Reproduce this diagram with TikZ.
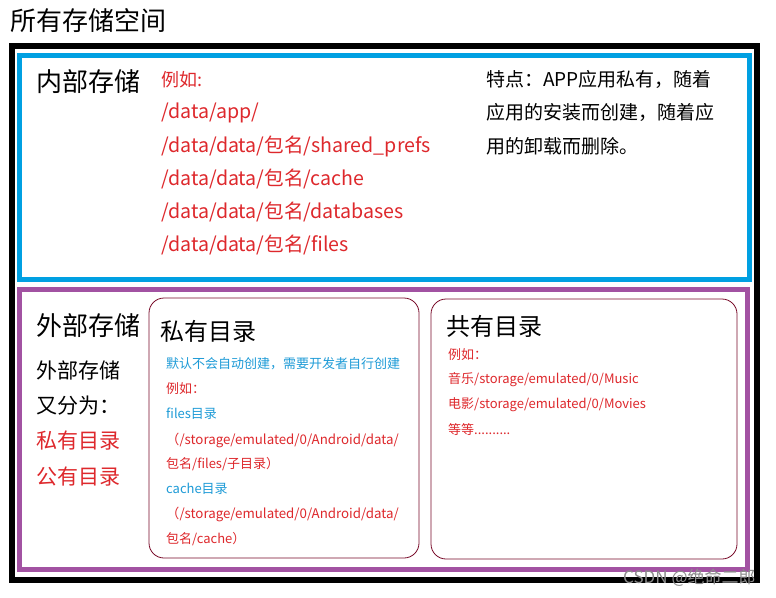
\documentclass[tikz,border=0pt]{standalone}
\usepackage{fontspec}
\setmainfont{Noto Sans CJK SC}
\definecolor{myred}{RGB}{222,40,44}
\definecolor{myblue}{RGB}{0,160,226}
\definecolor{mytblue}{RGB}{30,155,215}
\definecolor{mypurple}{RGB}{162,82,162}
\definecolor{mybrd}{RGB}{120,10,40}
\tikzset{
  txt/.style={anchor=west, inner sep=0pt, font=#1},
  redtxt/.style={txt=#1, text=myred},
  bluetxt/.style={txt=#1, text=mytblue},
  subbox/.style={draw=mybrd, line width=0.8pt, rounded corners=15pt},
}
\begin{document}
\begin{tikzpicture}[x=1pt,y=-1pt]
\useasboundingbox[fill=white] (0,0) rectangle (776,597);
% frames
\draw[line width=6pt] (12,45.5) rectangle (757,580);
\draw[myblue, line width=5pt] (19.5,55.5) rectangle (749.5,279);
\draw[mypurple, line width=5pt] (19.5,289.5) rectangle (747.5,569.5);
\draw[subbox] (149,298) rectangle (419,558);
\draw[subbox] (431,299) rectangle (737,559);
% title
\node[txt=\fontsize{26}{30}\selectfont] (title) at (10,21) {所有存储空间};
% internal
\node[txt=\fontsize{26}{30}\selectfont] (inner) at (36,82) {内部存储};
\node[redtxt=\fontsize{18}{22}\selectfont] (i0) at (161,80) {例如:};
\node[redtxt=\fontsize{19.6}{24}\selectfont] (i1) at (161,113) {/data/app/};
\node[redtxt=\fontsize{19.6}{24}\selectfont] (i2) at (161,146) {/data/data/包名/shared\_prefs};
\node[redtxt=\fontsize{19.6}{24}\selectfont] (i3) at (161,179) {/data/data/包名/cache};
\node[redtxt=\fontsize{19.6}{24}\selectfont] (i4) at (161,212) {/data/data/包名/databases};
\node[redtxt=\fontsize{19.6}{24}\selectfont] (i5) at (161,245) {/data/data/包名/files};
\node[txt=\fontsize{19}{23}\selectfont] (f1) at (486,79) {特点：APP应用私有，随着};
\node[txt=\fontsize{19}{23}\selectfont] (f2) at (486,112) {应用的安装而创建，随着应};
\node[txt=\fontsize{19}{23}\selectfont] (f3) at (486,146) {用的卸载而删除。};
% external
\node[txt=\fontsize{26}{30}\selectfont] (outer) at (36,326) {外部存储};
\node[txt=\fontsize{21}{25}\selectfont] (e1) at (36,370) {外部存储};
\node[txt=\fontsize{21}{25}\selectfont] (e2) at (36,406) {又分为：};
\node[redtxt=\fontsize{21}{25}\selectfont] (e3) at (36,441) {私有目录};
\node[redtxt=\fontsize{21}{25}\selectfont] (e4) at (36,477) {公有目录};
% private
\node[txt=\fontsize{24}{28}\selectfont] (priv) at (160,331) {私有目录};
\node[bluetxt=\fontsize{13}{16}\selectfont] (p1) at (166,364) {默认不会自动创建，需要开发者自行创建};
\node[redtxt=\fontsize{13}{16}\selectfont] (p2) at (166,389) {例如：};
\node[bluetxt=\fontsize{13}{16}\selectfont] (p3) at (166,414) {files目录};
\node[redtxt=\fontsize{13.3}{16}\selectfont] (p4) at (166,440) {（/storage/emulated/0/Android/data/};
\node[redtxt=\fontsize{13}{16}\selectfont] (p5) at (166,464) {包名/files/子目录）};
\node[bluetxt=\fontsize{13}{16}\selectfont] (p6) at (166,489) {cache目录};
\node[redtxt=\fontsize{13.3}{16}\selectfont] (p7) at (166,514) {（/storage/emulated/0/Android/data/};
\node[redtxt=\fontsize{13}{16}\selectfont] (p8) at (166,539) {包名/cache）};
% public
\node[txt=\fontsize{24}{28}\selectfont] (pub) at (446,326) {共有目录};
\node[redtxt=\fontsize{13}{16}\selectfont] (q1) at (448,355) {例如：};
\node[redtxt=\fontsize{13}{16}\selectfont] (q2) at (448,380) {音乐/storage/emulated/0/Music};
\node[redtxt=\fontsize{13}{16}\selectfont] (q3) at (448,405) {电影/storage/emulated/0/Movies};
\node[redtxt=\fontsize{13}{16}\selectfont] (q4) at (448,430) {等等..........};
% watermark
\node[txt=\fontsize{17}{20}\selectfont, text=black!45] (wm) at (623,578) {CSDN @绝命二郎};
\end{tikzpicture}
\end{document}
